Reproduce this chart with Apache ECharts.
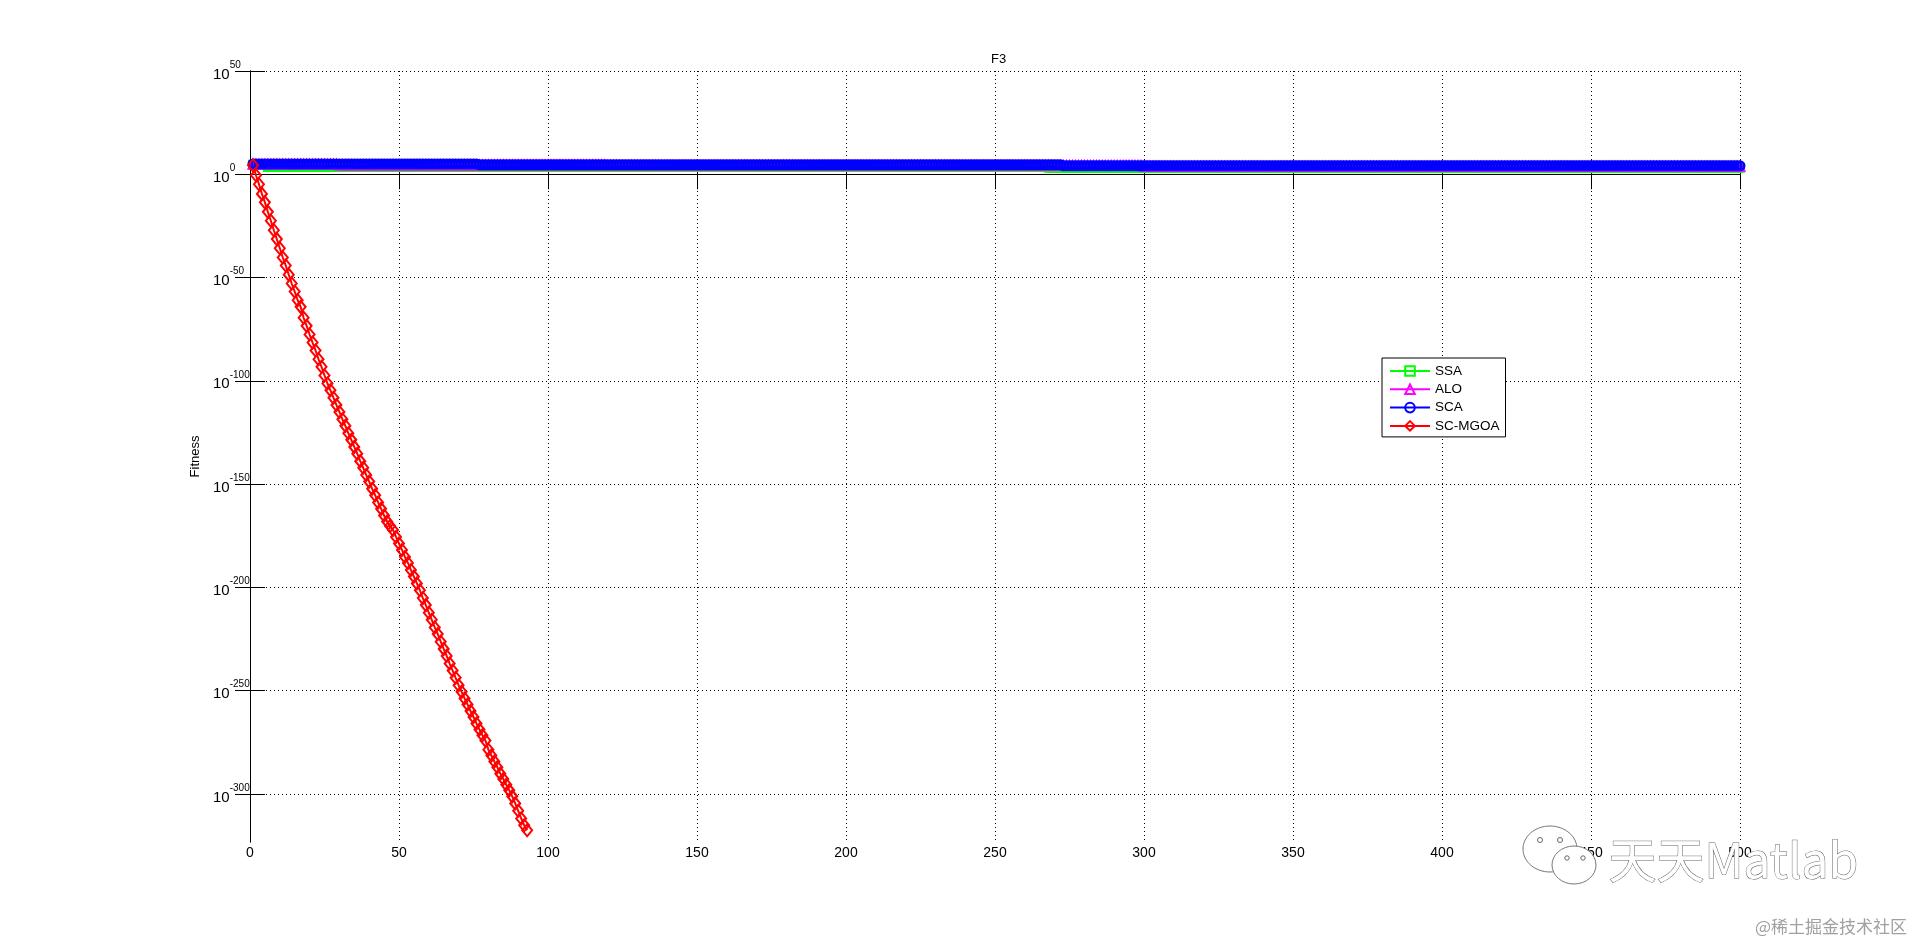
<!DOCTYPE html>
<html><head><meta charset="utf-8">
<script src="https://cdn.jsdelivr.net/npm/echarts@6/dist/echarts.min.js"></script>
<style>html,body{margin:0;padding:0;background:#fff}#c{width:1921px;height:946px}</style>
</head><body><div id="c"></div>
<script>
// ---- data (fitness stored as log10 values) ----
const seriesNames = ['SSA', 'ALO', 'SCA', 'SC-MGOA'];
const xTicks = [0, 50, 100, 150, 200, 250, 300, 350, 400, 450, 500];
const yTickExponents = [-300, -250, -200, -150, -100, -50, 0, 50];
const maxIter = 500;
// best-so-far curves given as change points: iteration where a new level starts, log10(fitness)
const ssaStepIters = [1, 6, 268];
const ssaStepLog10 = [4.6, 3.5, 3.2];
const aloStepIters = [1, 30, 120, 300];
const aloStepLog10 = [4.8, 4.5, 4.2, 3.9];
const scaStepIters = [1, 77, 273];
const scaStepLog10 = [5.0, 4.6, 4.1];
// SC-MGOA, iterations 1..93 (after that the fitness underflows to 0)
const scmgoaLog10 = [
  4.4, -0.5, -4.8, -9.5, -13.6, -18.2, -22.5, -27.1, -31.4, -35.8,
  -40.3, -44.2, -48.6, -52.9, -56.8, -61.0, -64.2, -69.5, -73.4, -77.6,
  -81.5, -85.3, -89.6, -93.2, -97.4, -101.3, -104.6, -108.2, -111.7, -115.1,
  -118.6, -121.8, -125.4, -128.6, -132.0, -135.3, -138.9, -142.1, -145.6, -148.8,
  -152.3, -155.4, -158.9, -162.0, -165.2, -168.1, -170.3, -172.2, -175.6, -178.8,
  -181.9, -185.3, -188.2, -191.6, -194.8, -198.1, -201.4, -205.2, -208.6, -212.3,
  -215.7, -219.4, -222.6, -226.3, -229.8, -233.2, -236.9, -240.3, -243.8, -247.4,
  -250.6, -253.8, -256.7, -259.9, -262.8, -265.9, -268.8, -271.6, -274.2, -278.6,
  -281.4, -284.3, -287.1, -290.2, -292.8, -295.6, -298.3, -301.2, -304.6, -308.2,
  -311.9, -315.2, -317.6
];
const yMinLog10 = -323.3; // log10 of smallest double
const yMaxLog10 = 50;

// ---- build ----
function expandSteps(iters, vals) {
  const out = [];
  let k = 0;
  for (let i = 1; i <= maxIter; i++) {
    while (k + 1 < iters.length && iters[k + 1] <= i) k++;
    out.push([i, vals[k]]);
  }
  return out;
}
const FONT = 'Liberation Sans, Arial, sans-serif';
const chart = echarts.init(document.getElementById('c'));
function mk(name, data, color, symbol, size, bw) {
  return {
    name, type: 'line', data, symbol, symbolSize: size, showAllSymbol: true,
    lineStyle: { color, width: 2 },
    itemStyle: { color: 'rgba(0,0,0,0)', borderColor: color, borderWidth: bw },
    emphasis: { disabled: true }, animation: false
  };
}
const grid = { left: 250, top: 71, right: 181, bottom: 104 };
const tickStyle = { inside: true, length: 15, lineStyle: { color: '#000', width: 1 } };
chart.setOption({
  backgroundColor: '#fff',
  animation: false,
  title: { text: 'F3', left: 986, top: 48, textStyle: { fontFamily: FONT, fontSize: 13, fontWeight: 'normal', color: '#000' } },
  grid,
  legend: {
    data: seriesNames, orient: 'vertical', left: 1382, top: 358,
    itemWidth: 40, itemHeight: 12, itemGap: 4.3,
    padding: [6, 6, 4, 7], borderColor: '#000', borderWidth: 1, borderRadius: 0, backgroundColor: '#fff',
    textStyle: { fontFamily: FONT, fontSize: 13.5, color: '#000', lineHeight: 14 },
    selectedMode: false
  },
  xAxis: [{
    type: 'value', min: xTicks[0], max: xTicks[xTicks.length - 1], interval: 50,
    axisLine: { lineStyle: { color: '#000', width: 1 } },
    axisTick: tickStyle,
    axisLabel: { fontFamily: FONT, fontSize: 14, color: '#000', margin: 4 },
    splitLine: { show: true, lineStyle: { color: '#000', width: 1, type: [1, 3] } }
  }, {
    type: 'value', position: 'top', min: xTicks[0], max: xTicks[xTicks.length - 1], interval: 50,
    axisLine: { show: true, lineStyle: { color: '#000', width: 1 } },
    axisTick: tickStyle, axisLabel: { show: false }, splitLine: { show: false }
  }],
  yAxis: [{
    type: 'value', min: yMinLog10, max: yMaxLog10,
    name: 'Fitness', nameLocation: 'middle', nameGap: 46,
    nameTextStyle: { fontFamily: FONT, fontSize: 13, color: '#000' },
    axisLine: { lineStyle: { color: '#000', width: 1 } },
    axisTick: Object.assign({ customValues: yTickExponents }, tickStyle),
    axisLabel: {
      customValues: yTickExponents, align: 'left', margin: 37,
      formatter: v => '{b|10}{e|' + v + '}',
      rich: {
        b: { fontFamily: FONT, fontSize: 15, color: '#000', lineHeight: 22, verticalAlign: 'bottom' },
        e: { fontFamily: FONT, fontSize: 10, color: '#000', lineHeight: 12, verticalAlign: 'top' }
      }
    },
    splitLine: { show: true, lineStyle: { color: '#000', width: 1, type: [1, 3] } }
  }, {
    type: 'value', position: 'right', min: yMinLog10, max: yMaxLog10,
    axisLine: { show: true, lineStyle: { color: '#000', width: 1 } },
    axisTick: Object.assign({ customValues: yTickExponents }, tickStyle),
    axisLabel: { show: false }, splitLine: { show: false }
  }],
  series: [
    mk('SSA', expandSteps(ssaStepIters, ssaStepLog10), '#00ff00', 'rect', 8, 2),
    mk('ALO', expandSteps(aloStepIters, aloStepLog10), '#ff00ff', 'triangle', 9, 2),
    mk('SCA', expandSteps(scaStepIters, scaStepLog10), '#0000ff', 'circle', 8.5, 2.5),
    mk('SC-MGOA', scmgoaLog10.map((v, i) => [i + 1, v]), '#ff0000', 'diamond', [10, 12], 2)
  ],
  graphic: [
    { type: 'ellipse', z: 100, shape: { cx: 1550, cy: 849, rx: 27, ry: 23 }, style: { fill: '#fff', stroke: '#777', lineWidth: 1 } },
    { type: 'circle', z: 101, shape: { cx: 1540, cy: 840, r: 2.5 }, style: { fill: '#fff', stroke: '#666' } },
    { type: 'circle', z: 101, shape: { cx: 1560, cy: 840, r: 2.5 }, style: { fill: '#fff', stroke: '#666' } },
    { type: 'ellipse', z: 102, shape: { cx: 1574, cy: 865, rx: 22, ry: 19 }, style: { fill: '#fff', stroke: '#777', lineWidth: 1 } },
    { type: 'circle', z: 103, shape: { cx: 1567, cy: 858, r: 2.2 }, style: { fill: '#fff', stroke: '#666' } },
    { type: 'circle', z: 103, shape: { cx: 1583, cy: 858, r: 2.2 }, style: { fill: '#fff', stroke: '#666' } },
    { type: 'text', z: 104, left: 1608, top: 835, style: { text: '天天Matlab', fontFamily: 'Noto Sans CJK SC', fontSize: 48, fill: '#fff', stroke: '#666', lineWidth: 1 } },
    { type: 'text', z: 104, left: 1755, top: 918, style: { text: '@稀土掘金技术社区', fontFamily: 'Noto Sans CJK SC', fontSize: 17, fill: '#a0a0a0' } }
  ]
});
</script></body></html>
